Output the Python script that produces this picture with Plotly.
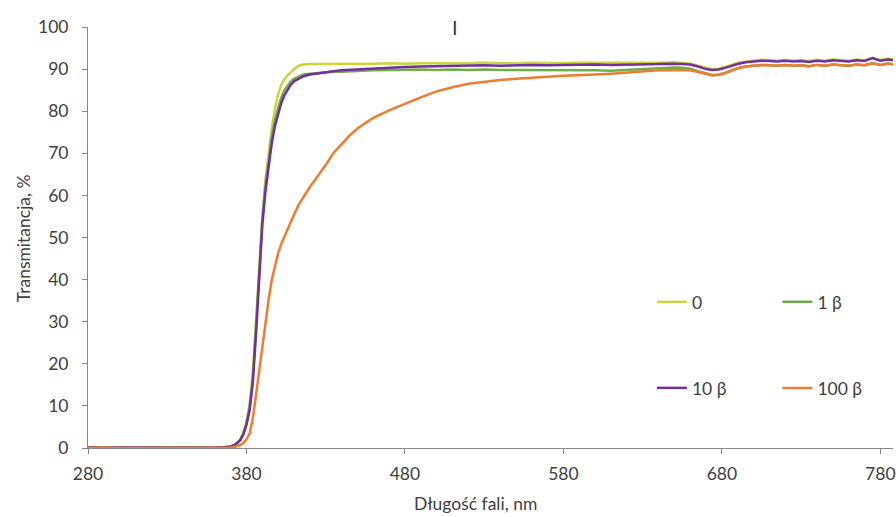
import plotly.graph_objects as go

# Wavelength grid, nm
wavelength = [
    280, 290, 300, 310, 320, 330, 340, 350, 360, 366, 370, 373, 376, 378, 380,
    382, 384, 386, 388, 390, 392, 394, 396, 398, 400, 402, 404, 406, 408, 410,
    413, 416, 420, 425, 430, 435, 440, 445, 450, 460, 470, 480, 490, 500, 510,
    520, 530, 540, 550, 560, 570, 580, 590, 600, 610, 620, 630, 640, 650, 655,
    660, 665, 670, 674, 678, 682, 686, 690, 695, 700, 705, 710, 715, 720, 725,
    730, 735, 740, 745, 750, 755, 760, 765, 770, 775, 780, 785, 788,
]

# Transmittance, %
t_0 = [
    0.1, 0.0, 0.1, 0.1, 0.0, 0.1, 0.1, 0.0, 0.1, 0.2, 0.4, 0.9, 2.0, 3.6, 6.2,
    10.5, 18.0, 30.0, 43.0, 55.0, 64.0, 70.5, 76.0, 80.5, 84.0, 86.3, 87.6, 88.5, 89.3, 90.0,
    90.8, 91.1, 91.2, 91.2, 91.3, 91.2, 91.3, 91.3, 91.3, 91.3, 91.4, 91.3, 91.4, 91.4, 91.3,
    91.4, 91.5, 91.4, 91.4, 91.5, 91.4, 91.4, 91.5, 91.5, 91.4, 91.5, 91.5, 91.5, 91.6, 91.5,
    91.3, 90.8, 90.3, 90.0, 90.1, 90.5, 91.0, 91.5, 91.8, 92.0, 92.2, 92.1, 92.0, 92.2, 92.0,
    92.1, 91.9, 92.2, 92.0, 92.3, 92.1, 92.0, 92.3, 92.1, 92.7, 92.2, 92.5, 92.3,
]

t_1b = [
    0.0, 0.1, 0.1, 0.0, 0.1, 0.0, 0.1, 0.1, 0.0, 0.2, 0.35, 0.85, 1.9, 3.4, 5.8,
    9.7, 16.5, 28.5, 41.5, 54.0, 62.5, 68.5, 74.0, 78.0, 81.0, 83.3, 85.0, 86.2, 87.1, 87.7,
    88.3, 88.7, 88.9, 89.1, 89.3, 89.4, 89.4, 89.5, 89.6, 89.7, 89.8, 89.9, 89.9, 89.8, 89.9,
    89.8, 89.9, 89.8, 89.8, 89.7, 89.8, 89.7, 89.7, 89.7, 89.6, 89.8, 90.0, 90.2, 90.4, 90.3,
    90.1, 89.5, 88.9, 88.6, 88.7, 89.1, 89.7, 90.2, 90.6, 90.8, 91.0, 90.9, 90.8, 91.0, 90.8,
    90.9, 90.7, 91.0, 90.8, 91.1, 90.9, 90.8, 91.1, 90.9, 91.4, 91.0, 91.3, 91.1,
]

t_10b = [
    0.1, 0.1, 0.0, 0.1, 0.0, 0.1, 0.0, 0.1, 0.1, 0.2, 0.3, 0.8, 1.8, 3.2, 5.5,
    9.0, 15.5, 27.0, 40.0, 53.0, 61.0, 67.0, 72.5, 76.5, 79.5, 82.0, 83.8, 85.2, 86.3, 87.1,
    87.8, 88.3, 88.7, 89.0, 89.3, 89.5, 89.7, 89.8, 90.0, 90.2, 90.4, 90.5, 90.6, 90.7, 90.7,
    90.8, 90.9, 90.8, 90.9, 91.0, 90.9, 91.0, 91.0, 91.1, 91.0, 91.1, 91.2, 91.2, 91.3, 91.2,
    91.1, 90.6, 90.0, 89.8, 89.9, 90.3, 90.8, 91.2, 91.6, 91.8, 92.0, 91.9, 91.8, 92.0, 91.8,
    91.9, 91.7, 92.0, 91.8, 92.1, 91.9, 91.8, 92.1, 91.9, 92.6, 92.0, 92.3, 92.1,
]

t_100b = [
    0.0, 0.1, 0.0, 0.0, 0.1, 0.0, 0.0, 0.1, 0.0, 0.1, 0.1, 0.3, 0.7, 1.2, 2.0,
    3.4, 7.0, 12.5, 18.3, 24.3, 30.0, 35.3, 40.0, 43.5, 46.3, 48.5, 50.3, 52.0, 53.6, 55.4,
    57.8, 59.7, 62.0, 64.6, 67.2, 70.1, 72.2, 74.2, 75.9, 78.4, 80.2, 81.8, 83.3, 84.7, 85.7,
    86.5, 87.0, 87.4, 87.7, 88.0, 88.2, 88.4, 88.5, 88.7, 88.9, 89.2, 89.5, 89.7, 89.8, 89.8,
    89.7, 89.3, 88.8, 88.5, 88.6, 89.0, 89.6, 90.2, 90.6, 90.8, 91.0, 90.9, 90.8, 91.0, 90.8,
    90.9, 90.7, 91.0, 90.8, 91.1, 90.9, 90.8, 91.1, 90.9, 91.4, 91.0, 91.3, 91.1,
]

series_names = ["0", "1 β", "10 β", "100 β"]
series_values = [t_0, t_1b, t_10b, t_100b]
series_colors = ["#CDD43A", "#70AD47", "#7030A0", "#ED7D31"]
# one legend box per series, laid out as a 2 x 2 grid inside the plot
series_legend = ["legend", "legend2", "legend3", "legend4"]

for vals in series_values:
    assert len(vals) == len(wavelength)

FONT = "Lato, 'Open Sans', sans-serif"
TEXT = "#404040"
AXIS = "#868686"
FS = 17.5

fig = go.Figure()
for name, vals, color, leg in zip(series_names, series_values, series_colors, series_legend):
    fig.add_trace(go.Scatter(
        x=wavelength, y=vals, name=name, mode="lines",
        line=dict(color=color, width=2.5),
        legend=leg,
    ))


def legend_box(x, y):
    return dict(
        x=x, y=y, xanchor="left", yanchor="middle",
        bgcolor="rgba(0,0,0,0)", borderwidth=0,
        font=dict(family=FONT, size=FS, color=TEXT),
    )


col_left, col_right = 0.7005, 0.8564
row_top, row_bottom = 0.3468, 0.1425

fig.update_layout(
    width=896, height=517,
    margin=dict(l=88, r=0, t=27, b=69),
    paper_bgcolor="white", plot_bgcolor="white",
    font=dict(family=FONT, size=FS, color=TEXT),
    showlegend=True,
    legend=legend_box(col_left, row_top),
    legend2=legend_box(col_right, row_top),
    legend3=legend_box(col_left, row_bottom),
    legend4=legend_box(col_right, row_bottom),
    xaxis=dict(
        range=[280, 788], tick0=280, dtick=100,
        showgrid=False, zeroline=False,
        showline=True, linecolor=AXIS, linewidth=1,
        ticks="outside", ticklen=5, tickcolor=AXIS,
        ticklabelstandoff=5, ticklabeloverflow="allow",
        tickfont=dict(family=FONT, size=FS, color=TEXT),
    ),
    yaxis=dict(
        range=[0, 100], dtick=10,
        showgrid=False, zeroline=False,
        showline=True, linecolor=AXIS, linewidth=1,
        ticks="outside", ticklen=5, tickcolor=AXIS,
        ticklabelstandoff=10,
        tickfont=dict(family=FONT, size=FS, color=TEXT),
    ),
    annotations=[
        dict(text="I", xref="paper", yref="paper", x=0.4554, y=1.0,
             xanchor="center", yanchor="middle", showarrow=False,
             font=dict(family=FONT, size=20, color=TEXT)),
        dict(text="Długość fali, nm", xref="paper", yref="paper",
             x=0.4814, y=-0.1329, xanchor="center", yanchor="middle",
             showarrow=False, font=dict(family=FONT, size=FS, color=TEXT)),
        dict(text="Transmitancja, %", xref="paper", yref="paper",
             x=-0.0805, y=0.4988, xanchor="center", yanchor="middle",
             textangle=-90, showarrow=False,
             font=dict(family=FONT, size=FS, color=TEXT)),
    ],
)

fig.write_html("out.html")
